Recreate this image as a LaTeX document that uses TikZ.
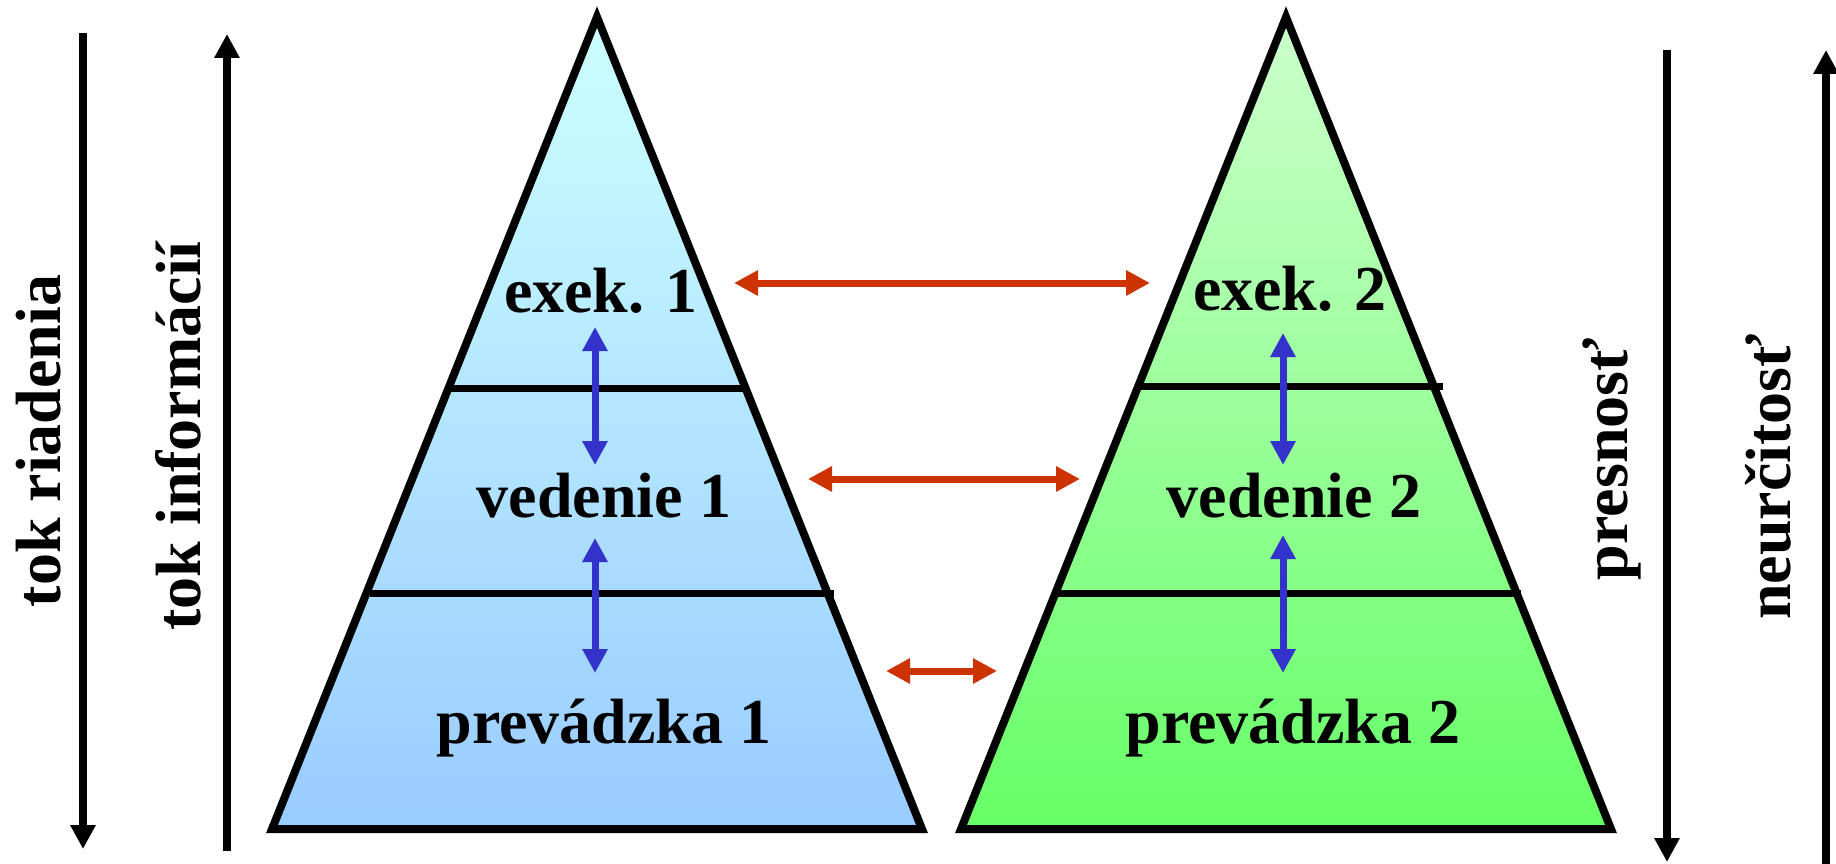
\documentclass[tikz,border=0pt]{standalone}
\usepackage{fontspec}
\setmainfont{Liberation Serif}
\usetikzlibrary{arrows.meta}
\definecolor{redarr}{RGB}{204,51,0}
\definecolor{bluearr}{RGB}{51,51,204}
\definecolor{cyantop}{RGB}{204,255,255}
\definecolor{cyanbot}{RGB}{153,204,255}
\definecolor{greentop}{RGB}{204,255,204}
\definecolor{greenbot}{RGB}{102,255,102}
\begin{document}
\begin{tikzpicture}[x=1pt,y=-1pt,
  lbl/.style={font=\fontsize{64}{70}\selectfont\bfseries, inner sep=0pt, anchor=base},
  vlbl/.style={lbl, rotate=90},
  outline/.style={line width=8pt, line join=miter, miter limit=10},
  divider/.style={line width=7pt},
  flowline/.style={line width=8pt, black, -{Triangle[length=24pt,width=24pt]}},
  redlink/.style={line width=7pt, redarr, {Triangle[length=24pt,width=24pt]}-{Triangle[length=24pt,width=24pt]}},
  bluelink/.style={line width=7pt, bluearr, {Triangle[length=24pt,width=24pt]}-{Triangle[length=24pt,width=24pt]}}
]
\useasboundingbox (0,0) rectangle (1836,864);

% left pyramid
\coordinate (L1) at (272,829);
\coordinate (T1) at (597,17);
\coordinate (R1) at (922,829);
\shade[top color=cyantop, bottom color=cyanbot] (L1) -- (T1) -- (R1) -- cycle;
\draw[divider] (450,388) -- (745,388);
\draw[divider] (370,593) -- (834,593);
\draw[outline] (L1) -- (T1) -- (R1) -- cycle;

% right pyramid
\coordinate (L2) at (961,829);
\coordinate (T2) at (1286,17);
\coordinate (R2) at (1611,829);
\shade[top color=greentop, bottom color=greenbot] (L2) -- (T2) -- (R2) -- cycle;
\draw[divider] (1140,386) -- (1443,386);
\draw[divider] (1057,593) -- (1521,593);
\draw[outline] (L2) -- (T2) -- (R2) -- cycle;

% labels in pyramids
\node[lbl] (exek1) at (601,312) {exek. 1};
\node[lbl] (ved1) at (604,517) {vedenie 1};
\node[lbl] (prev1) at (604,743) {prevádzka 1};
\node[lbl] (exek2) at (1290,310) {exek. 2};
\node[lbl] (ved2) at (1294,517) {vedenie 2};
\node[lbl] (prev2) at (1293,743) {prevádzka 2};

% blue arrows
\coordinate (b1a) at (595,327); \coordinate (b1b) at (595,465);
\coordinate (b2a) at (595,538); \coordinate (b2b) at (595,673);
\coordinate (b3a) at (1283,333); \coordinate (b3b) at (1283,465);
\coordinate (b4a) at (1283,535); \coordinate (b4b) at (1283,673);
\draw[bluelink] (b1a) -- (b1b);
\draw[bluelink] (b2a) -- (b2b);
\draw[bluelink] (b3a) -- (b3b);
\draw[bluelink] (b4a) -- (b4b);

% red arrows
\coordinate (r1a) at (734,283); \coordinate (r1b) at (1150,283);
\coordinate (r2a) at (808,479); \coordinate (r2b) at (1080,479);
\coordinate (r3a) at (886,671); \coordinate (r3b) at (997,671);
\draw[redlink] (r1a) -- (r1b);
\draw[redlink] (r2a) -- (r2b);
\draw[redlink] (r3a) -- (r3b);

% side flows
\coordinate (f1a) at (83,33); \coordinate (f1b) at (83,849);
\coordinate (f2a) at (227,851); \coordinate (f2b) at (227,34);
\coordinate (f3a) at (1667,50); \coordinate (f3b) at (1667,862);
\coordinate (f4a) at (1826,866); \coordinate (f4b) at (1826,50);
\draw[flowline] (f1a) -- (f1b);
\draw[flowline] (f2a) -- (f2b);
\draw[flowline] (f3a) -- (f3b);
\draw[flowline] (f4a) -- (f4b);

\node[vlbl] (riad) at (60,441) {tok riadenia};
\node[vlbl] (info) at (200,436) {tok informácií};
\node[vlbl] (pres) at (1627,459) {presnosť};
\node[vlbl] (neur) at (1790,477) {neurčitosť};
\end{tikzpicture}
\end{document}
